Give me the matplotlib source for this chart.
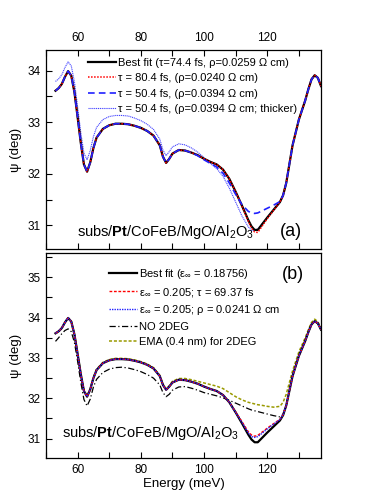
import matplotlib
matplotlib.use("Agg")
import matplotlib.pyplot as plt
from matplotlib.ticker import MultipleLocator

plt.rcParams['font.family'] = ['Liberation Sans', 'DejaVu Sans']
plt.rcParams['mathtext.fontset'] = 'custom'
plt.rcParams['mathtext.rm'] = 'Liberation Sans'
plt.rcParams['mathtext.it'] = 'Liberation Sans:italic'
plt.rcParams['mathtext.bf'] = 'Liberation Sans:bold'

energy = [53, 54, 55, 56, 57, 58, 59, 60, 61, 62, 63, 64, 65, 66,
          68, 70, 72, 74, 76, 78, 80, 82, 84, 86,
          87, 88, 89, 90,
          92, 94, 96, 98, 100, 102, 104, 106, 108, 110, 112, 114,
          115, 116, 117, 118, 120, 122, 124, 125, 126,
          128, 130, 132, 133, 134, 135, 136, 137]

best_fit = [33.61, 33.66, 33.74, 33.88, 33.99, 33.90, 33.58, 33.10, 32.60, 32.18, 32.04, 32.22, 32.50, 32.70,
            32.87, 32.94, 32.97, 32.97, 32.96, 32.93, 32.89, 32.83, 32.74, 32.55,
            32.33, 32.21, 32.29, 32.39,
            32.46, 32.45, 32.41, 32.36, 32.29, 32.23, 32.18, 32.08, 31.90, 31.65, 31.38, 31.10,
            30.98, 30.91, 30.91, 30.99, 31.15, 31.30, 31.45, 31.58, 31.82,
            32.55, 33.05, 33.42, 33.64, 33.83, 33.91, 33.86, 33.70]

tau_80 = [33.61, 33.66, 33.74, 33.88, 33.99, 33.90, 33.58, 33.10, 32.60, 32.18, 32.04, 32.22, 32.50, 32.70,
          32.87, 32.94, 32.97, 32.97, 32.96, 32.93, 32.89, 32.83, 32.74, 32.55,
          32.33, 32.21, 32.29, 32.39,
          32.46, 32.45, 32.41, 32.36, 32.29, 32.23, 32.18, 32.08, 31.90, 31.65, 31.37, 31.08,
          30.95, 30.87, 30.86, 30.95, 31.13, 31.29, 31.45, 31.58, 31.82,
          32.55, 33.05, 33.42, 33.64, 33.83, 33.91, 33.86, 33.70]

tau_50 = [33.61, 33.66, 33.74, 33.88, 33.99, 33.90, 33.58, 33.10, 32.60, 32.18, 32.04, 32.22, 32.50, 32.70,
          32.87, 32.94, 32.97, 32.97, 32.96, 32.93, 32.89, 32.83, 32.74, 32.55,
          32.33, 32.21, 32.29, 32.39,
          32.46, 32.45, 32.41, 32.35, 32.27, 32.20, 32.13, 32.01, 31.82, 31.60, 31.40, 31.27,
          31.24, 31.23, 31.24, 31.27, 31.33, 31.39, 31.46, 31.58, 31.82,
          32.55, 33.05, 33.42, 33.64, 33.83, 33.91, 33.86, 33.70]

tau_50_thick = [33.79, 33.84, 33.92, 34.06, 34.17, 34.09, 33.78, 33.30, 32.80, 32.40, 32.27, 32.45, 32.72, 32.90,
                33.05, 33.11, 33.13, 33.13, 33.12, 33.08, 33.03, 32.96, 32.86, 32.67,
                32.46, 32.35, 32.43, 32.52,
                32.58, 32.56, 32.50, 32.42, 32.31, 32.20, 32.10, 31.95, 31.72, 31.45, 31.18, 30.97,
                30.90, 30.90, 30.93, 31.00, 31.15, 31.30, 31.46, 31.59, 31.83,
                32.56, 33.06, 33.43, 33.65, 33.84, 33.92, 33.87, 33.71]

eps_tau = [33.61, 33.66, 33.74, 33.88, 33.99, 33.90, 33.58, 33.10, 32.60, 32.18, 32.04, 32.22, 32.50, 32.70,
           32.87, 32.94, 32.97, 32.97, 32.96, 32.93, 32.89, 32.83, 32.74, 32.55,
           32.33, 32.21, 32.29, 32.39,
           32.46, 32.45, 32.41, 32.36, 32.29, 32.23, 32.18, 32.08, 31.90, 31.66, 31.42, 31.17,
           31.09, 31.06, 31.08, 31.14, 31.26, 31.37, 31.48, 31.59, 31.82,
           32.55, 33.05, 33.42, 33.64, 33.83, 33.91, 33.86, 33.70]

eps_rho = [33.61, 33.66, 33.74, 33.88, 33.99, 33.90, 33.58, 33.10, 32.60, 32.18, 32.04, 32.22, 32.50, 32.70,
           32.87, 32.94, 32.97, 32.97, 32.96, 32.93, 32.89, 32.83, 32.74, 32.55,
           32.33, 32.21, 32.29, 32.39,
           32.46, 32.45, 32.41, 32.36, 32.29, 32.23, 32.18, 32.08, 31.90, 31.65, 31.40, 31.14,
           31.05, 31.03, 31.05, 31.11, 31.24, 31.36, 31.47, 31.59, 31.82,
           32.55, 33.05, 33.42, 33.64, 33.83, 33.91, 33.86, 33.70]

no_2deg = [33.41, 33.50, 33.60, 33.68, 33.72, 33.65, 33.38, 32.92, 32.40, 31.97, 31.81, 31.98, 32.28, 32.47,
           32.64, 32.72, 32.76, 32.77, 32.75, 32.71, 32.66, 32.59, 32.50, 32.33,
           32.14, 32.04, 32.10, 32.20,
           32.28, 32.29, 32.25, 32.20, 32.14, 32.10, 32.06, 32.01, 31.95, 31.88, 31.81, 31.74,
           31.71, 31.69, 31.67, 31.65, 31.61, 31.57, 31.54, 31.60, 31.82,
           32.55, 33.05, 33.42, 33.64, 33.83, 33.90, 33.85, 33.69]

ema = [33.60, 33.65, 33.73, 33.88, 33.99, 33.90, 33.59, 33.11, 32.62, 32.20, 32.06, 32.24, 32.52, 32.72,
       32.89, 32.96, 32.99, 32.99, 32.98, 32.95, 32.91, 32.85, 32.76, 32.57,
       32.35, 32.23, 32.31, 32.42,
       32.49, 32.49, 32.46, 32.42, 32.38, 32.34, 32.30, 32.24, 32.14, 32.04, 31.96, 31.90,
       31.88, 31.86, 31.84, 31.83, 31.80, 31.78, 31.80, 31.90, 32.10,
       32.68, 33.15, 33.50, 33.70, 33.88, 33.96, 33.90, 33.73]

labels_a = ["Best fit (τ=74.4 fs, ρ=0.0259 Ω cm)",
            "τ = 80.4 fs, (ρ=0.0240 Ω cm)",
            "τ = 50.4 fs, (ρ=0.0394 Ω cm)",
            "τ = 50.4 fs, (ρ=0.0394 Ω cm; thicker)"]
labels_b = [r"Best fit (ε$_{\infty}$ = 0.18756)",
            r"ε$_{\infty}$ = 0.205; τ = 69.37 fs",
            r"ε$_{\infty}$ = 0.205; ρ = 0.0241 Ω cm",
            "NO 2DEG",
            "EMA (0.4 nm) for 2DEG"]
stack_label = r"subs/$\mathbf{Pt}$/CoFeB/MgO/Al$_2$O$_3$"

fig = plt.figure(figsize=(3.82, 4.94), dpi=100)
axa = fig.add_axes([46/382, 1-249/494, 275/382, 199/494])
axb = fig.add_axes([46/382, 1-458/494, 275/382, 205/494])

# Panel (a)
axa.plot(energy, best_fit, color='black', lw=1.6, label=labels_a[0], zorder=3)
axa.plot(energy, tau_80, color='red', lw=1.1, ls=(0, (1, 1)), label=labels_a[1], zorder=4)
axa.plot(energy, tau_50, color='#2020ff', lw=1.2, ls=(0, (4, 2.5)), label=labels_a[2], zorder=4)
axa.plot(energy, tau_50_thick, color='#4444ff', lw=0.8, ls=(0, (1, 0.7)), label=labels_a[3], zorder=2)

# Panel (b)
axb.plot(energy, best_fit, color='black', lw=1.6, label=labels_b[0], zorder=3)
axb.plot(energy, eps_tau, color='red', lw=1.0, ls=(0, (2, 1.2)), label=labels_b[1], zorder=4)
axb.plot(energy, eps_rho, color='#2020ff', lw=1.0, ls=(0, (1, 0.8)), label=labels_b[2], zorder=4)
axb.plot(energy, no_2deg, color='black', lw=0.9, ls=(0, (5, 2, 1, 2)), label=labels_b[3], zorder=2)
axb.plot(energy, ema, color='#9a9a00', lw=1.1, ls=(0, (2, 1.2)), label=labels_b[4], zorder=2)

for ax in (axa, axb):
    ax.set_xlim(50, 137)
    ax.xaxis.set_major_locator(MultipleLocator(20))
    ax.xaxis.set_minor_locator(MultipleLocator(10))
    ax.yaxis.set_major_locator(MultipleLocator(1))
    ax.yaxis.set_minor_locator(MultipleLocator(0.5))
    ax.tick_params(which='both', direction='in', labelsize=8.5, width=0.8, right=False)
    ax.tick_params(which='major', length=4.5, pad=4)
    ax.tick_params(which='minor', length=4.5)
    ax.set_ylabel("ψ (deg)", fontsize=9.5, labelpad=4)
    for s in ax.spines.values():
        s.set_linewidth(0.9)

axa.set_ylim(30.54, 34.4)
axa.tick_params(axis='x', which='both', top=True, bottom=True, labeltop=True, labelbottom=False)
axb.set_ylim(30.52, 35.6)
axb.tick_params(axis='x', which='both', top=False, bottom=True, labelbottom=True)
axb.set_xlabel("Energy (meV)", fontsize=9.5, labelpad=2)

axa.legend(loc='upper left', bbox_to_anchor=(0.152, 0.962), frameon=False, fontsize=8,
           handlelength=2.5, handletextpad=0.2, labelspacing=0.5, borderpad=0, borderaxespad=0)
axb.legend(loc='upper left', bbox_to_anchor=(0.23, 0.932), frameon=False, fontsize=8,
           handlelength=2.5, handletextpad=0.2, labelspacing=0.42, borderpad=0, borderaxespad=0)

axa.text(0.113, 0.085, stack_label, transform=axa.transAxes, fontsize=10.5, va='center', ha='left')
axa.text(0.89, 0.09, "(a)", transform=axa.transAxes, fontsize=13, va='center', ha='center')
axb.text(0.058, 0.122, stack_label, transform=axb.transAxes, fontsize=10.5, va='center', ha='left')
axb.text(0.898, 0.895, "(b)", transform=axb.transAxes, fontsize=13, va='center', ha='center')

fig.savefig("out.png", dpi=100)
